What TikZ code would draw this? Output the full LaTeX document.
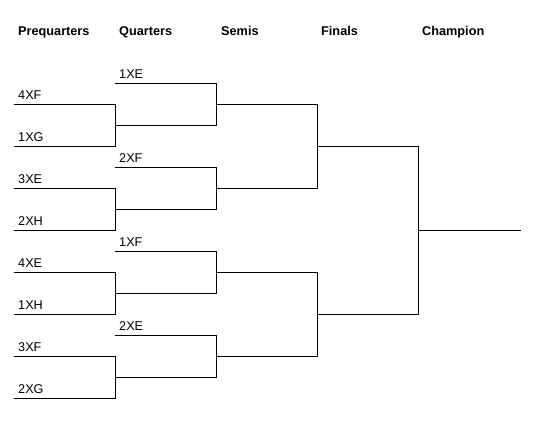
\documentclass[tikz,border=0pt]{standalone}
\usepackage{fontspec}
\setmainfont{Liberation Sans}
\begin{document}
\begin{tikzpicture}[x=1pt,y=-1pt,
  bline/.style={line width=1pt,line cap=rect},
  team/.style={anchor=base west,inner sep=0pt,font=\fontsize{12.7}{15}\selectfont},
  head/.style={anchor=base west,inner sep=0pt,font=\fontsize{12.7}{15}\selectfont\bfseries}]
\useasboundingbox (0,0) rectangle (548,423);
% headers
\node[head] (h1) at (18,35) {Prequarters};
\node[head] (h2) at (119,35) {Quarters};
\node[head] (h3) at (221,35) {Semis};
\node[head] (h4) at (321,35) {Finals};
\node[head] (h5) at (422,35) {Champion};
% prequarter slots
\foreach \n/\t [count=\i from 0] in {p1/4XF,p2/1XG,p3/3XE,p4/2XH,p5/4XE,p6/1XH,p7/3XF,p8/2XG}{
  \coordinate (\n a) at (14,104+42*\i);
  \coordinate (\n b) at (115,104+42*\i);
  \node[team] (\n t) at (18,99+42*\i) {\t};
}
% quarter slots (labelled ones)
\foreach \n/\t [count=\i from 0] in {q1/1XE,q3/2XF,q5/1XF,q7/2XE}{
  \coordinate (\n a) at (115,83+84*\i);
  \coordinate (\n b) at (216,83+84*\i);
  \node[team] (\n t) at (119,78+84*\i) {\t};
}
% quarter slots (from prequarter winners)
\foreach \n [count=\i from 0] in {q2,q4,q6,q8}{
  \coordinate (\n a) at (115,125+84*\i);
  \coordinate (\n b) at (216,125+84*\i);
}
% semis
\foreach \n [count=\i from 0] in {s1,s2,s3,s4}{
  \coordinate (\n a) at (216,104+84*\i);
  \coordinate (\n b) at (317,104+84*\i);
}
% finals
\foreach \n [count=\i from 0] in {f1,f2}{
  \coordinate (\n a) at (317,146+168*\i);
  \coordinate (\n b) at (418,146+168*\i);
}
\coordinate (ca) at (418,230);
\coordinate (cb) at (520,230);
% prequarter brackets
\draw[bline] (p1a) -- (p1b) -- (p2b) -- (p2a);
\draw[bline] (p3a) -- (p3b) -- (p4b) -- (p4a);
\draw[bline] (p5a) -- (p5b) -- (p6b) -- (p6a);
\draw[bline] (p7a) -- (p7b) -- (p8b) -- (p8a);
% quarter brackets
\draw[bline] (q1a) -- (q1b) -- (q2b) -- (q2a);
\draw[bline] (q3a) -- (q3b) -- (q4b) -- (q4a);
\draw[bline] (q5a) -- (q5b) -- (q6b) -- (q6a);
\draw[bline] (q7a) -- (q7b) -- (q8b) -- (q8a);
% semi brackets
\draw[bline] (s1a) -- (s1b) -- (s2b) -- (s2a);
\draw[bline] (s3a) -- (s3b) -- (s4b) -- (s4a);
% final bracket
\draw[bline] (f1a) -- (f1b) -- (f2b) -- (f2a);
% champion
\draw[bline] (ca) -- (cb);
\end{tikzpicture}
\end{document}
